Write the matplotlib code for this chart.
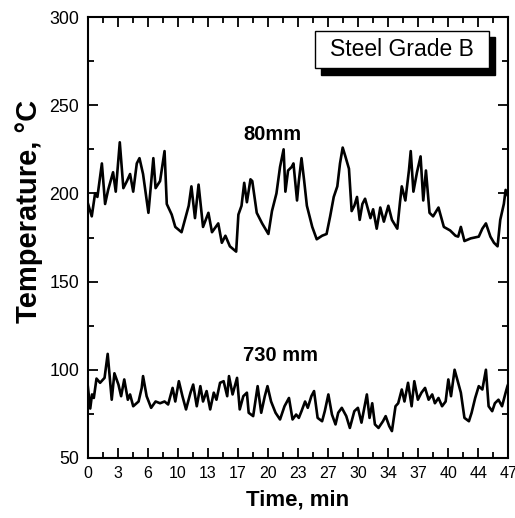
import numpy as np
import matplotlib

matplotlib.use("Agg")
import matplotlib.pyplot as plt
from matplotlib.patches import Rectangle
from matplotlib.ticker import MultipleLocator

plt.rcParams["font.family"] = ["Liberation Sans", "DejaVu Sans"]

# ------------------------------------------------------------
# Data
# ------------------------------------------------------------

# thermocouple at 80 mm
t_80 = [
    0.0, 0.47, 0.84, 1.1, 1.6, 1.96, 2.3, 2.85, 3.15, 3.6, 4.0, 4.4, 4.75,
    5.1, 5.5, 5.8, 6.2, 6.8, 7.35, 7.6, 8.1, 8.6, 8.85, 9.4, 9.8, 10.5,
    11.3, 11.6, 12.0, 12.4, 12.9, 13.5, 13.9, 14.6, 15.0, 15.4, 15.9, 16.6,
    16.85, 17.2, 17.5, 17.8, 18.2, 18.4, 18.9, 19.5, 20.2, 20.6, 21.1, 21.5,
    21.9, 22.1, 22.4, 22.8, 23.0, 23.4, 23.6, 23.9, 24.2, 24.5, 25.1, 25.6,
    26.2, 26.7, 27.1, 27.5, 27.9, 28.2, 28.5, 28.8, 29.2, 29.5, 29.8, 30.1,
    30.4, 30.7, 31.0, 31.6, 31.9, 32.3, 32.7, 33.1, 33.6, 34.0, 34.6, 34.9,
    35.1, 35.5, 35.9, 36.1, 36.4, 36.8, 37.2, 37.5, 37.8, 38.2, 38.6, 39.2,
    39.8, 40.5, 41.1, 41.4, 41.7, 42.1, 42.8, 43.7, 44.1, 44.5, 45.0, 45.4,
    45.8, 46.1, 46.5, 46.7, 47.0,
]
temp_80 = [
    195, 187, 200, 198, 217, 194, 202, 212, 201, 229, 203, 207, 211,
    201, 217, 220, 211, 189, 220, 203, 207, 224, 194, 188, 181, 178,
    193, 204, 186, 205, 181, 189, 178, 183, 172, 176, 170, 167,
    188, 193, 206, 195, 208, 207, 189, 183, 177, 190, 200, 215,
    225, 201, 213, 215, 217, 196, 207, 220, 207, 193, 181, 174,
    176, 177, 187, 198, 204, 217, 226, 221, 214, 190, 193, 198,
    185, 194, 197, 186, 191, 180, 192, 184, 193, 185, 180, 195,
    204, 196, 213, 224, 201, 212, 221, 196, 213, 189, 187, 192,
    181, 179, 176, 175.5, 181, 173, 174.5, 175.5, 180, 183, 175.5, 172,
    170, 185, 194, 202, 198,
]

# thermocouple at 730 mm
t_730 = [
    0.0, 0.3, 0.5, 0.7, 1.0, 1.4, 1.9, 2.25, 2.7, 3.0, 3.45, 3.75, 4.1,
    4.5, 4.75, 5.1, 5.7, 6.05, 6.2, 6.6, 7.1, 7.6, 8.1, 8.6, 9.0, 9.5,
    9.8, 10.2, 10.6, 11.0, 11.5, 11.8, 12.2, 12.6, 12.9, 13.3, 13.7, 14.1,
    14.4, 14.8, 15.2, 15.6, 15.8, 16.2, 16.7, 17.0, 17.4, 17.8, 18.0, 18.5,
    19.0, 19.4, 19.8, 20.1, 20.5, 21.0, 21.5, 22.0, 22.5, 22.9, 23.3, 23.6,
    23.9, 24.3, 24.6, 25.0, 25.3, 25.7, 26.2, 26.5, 26.9, 27.3, 27.7, 28.0,
    28.4, 28.9, 29.3, 29.8, 30.2, 30.6, 31.2, 31.5, 31.8, 32.1, 32.5, 33.0,
    33.3, 33.7, 34.0, 34.4, 34.7, 35.1, 35.4, 35.8, 36.2, 36.5, 36.9, 37.3,
    37.7, 38.1, 38.5, 38.8, 39.2, 39.6, 40.0, 40.3, 40.6, 41.0, 41.4, 41.7,
    42.1, 42.6, 42.9, 43.3, 43.7, 44.1, 44.5, 44.8, 45.2, 45.5, 45.9, 46.3,
    46.7, 46.9, 47.0,
]
temp_730 = [
    92, 78, 86, 84, 95, 92.6, 95.4, 109, 83, 98, 91.6, 85, 94.5,
    83, 86, 79.3, 82, 89.7, 96.4, 85, 78.4, 82, 81, 82, 80.3, 89.7,
    82, 93.5, 85, 77.5, 87, 91.6, 79.3, 90.7, 82, 87.9, 77.5, 87,
    83, 92.6, 93.5, 85, 96.4, 86, 95.4, 77.5, 85, 87, 75.6, 73.7,
    90.7, 75.6, 85, 90.7, 82, 75.6, 71.8, 79.3, 84, 71.8, 74.6, 72.7,
    76.5, 82, 78.4, 85, 87.9, 72.7, 70.8, 76.5, 86, 74.6, 69, 75.6,
    78.4, 73.7, 67, 76.5, 78.4, 70, 86, 72.7, 81, 69, 67, 70.8,
    73.7, 68, 65.2, 79.3, 81, 88.8, 82, 92.6, 79.3, 93.5, 83, 87,
    89.7, 83, 86, 81, 84, 79.3, 82, 94.5, 85, 100, 92.6, 87,
    72.7, 70.8, 75.6, 84, 90.7, 88.8, 100, 79.3, 76.5, 81, 83, 79.3,
    87, 90.7, 92,
]

x_tick_labels = ["0", "3", "6", "10", "13", "17", "20", "23", "27",
                 "30", "34", "37", "40", "44", "47"]

T_MAX = 47.0

# ------------------------------------------------------------
# Figure
# ------------------------------------------------------------

fig = plt.figure(figsize=(5.15, 5.18), dpi=100)
ax = fig.add_axes([0.170, 0.116, 0.817, 0.851])

ax.plot(t_80, temp_80, color="black", linewidth=1.9)
ax.plot(t_730, temp_730, color="black", linewidth=1.9)

ax.set_xlim(0, T_MAX)
ax.set_ylim(50, 300)

x_major = np.linspace(0, T_MAX, len(x_tick_labels))
ax.set_xticks(x_major)
ax.set_xticklabels(x_tick_labels)
ax.set_xticks((x_major[:-1] + x_major[1:]) / 2, minor=True)

ax.yaxis.set_major_locator(MultipleLocator(50))
ax.yaxis.set_minor_locator(MultipleLocator(25))

ax.tick_params(which="both", direction="in", top=True, right=True,
               width=1.3, pad=6)
ax.tick_params(axis="x", labelsize=11.5)
ax.tick_params(axis="y", labelsize=12.8)
ax.tick_params(which="major", length=7)
ax.tick_params(which="minor", length=4)

for sp in ax.spines.values():
    sp.set_linewidth(1.5)

ax.set_xlabel("Time, min", fontsize=16, fontweight="bold", labelpad=6)
ax.set_ylabel("Temperature, °C", fontsize=21, fontweight="bold")
ax.yaxis.set_label_coords(-0.106, 0.56)

ax.text(20.7, 233.5, "80mm", fontsize=14.5, fontweight="bold",
        ha="center", va="center")
ax.text(21.5, 108, "730 mm", fontsize=14.5, fontweight="bold",
        ha="center", va="center")

# legend-style box with drop shadow
bx, by, bw, bh = 0.541, 0.884, 0.414, 0.085
dx, dy = 0.0145, -0.0145
ax.add_patch(Rectangle((bx + dx, by + dy), bw, bh, transform=ax.transAxes,
                       facecolor="black", edgecolor="black", zorder=5))
ax.add_patch(Rectangle((bx, by), bw, bh, transform=ax.transAxes,
                       facecolor="white", edgecolor="black", linewidth=1.0,
                       zorder=6))
ax.text(bx + bw / 2, by + bh / 2, "Steel Grade B", transform=ax.transAxes,
        fontsize=16.5, ha="center", va="center", zorder=7)

fig.savefig("out.png", dpi=100)
